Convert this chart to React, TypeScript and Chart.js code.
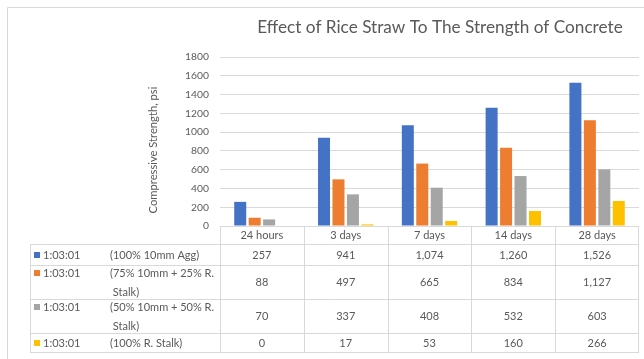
import { useEffect, useRef } from "react";
import { Chart, registerables } from "chart.js";

Chart.register(...registerables);

// Curing ages shown along the horizontal axis and as the table header
const categories = ["24 hours", "3 days", "7 days", "14 days", "28 days"];

// Mix identifiers and descriptions (description split into its wrapped lines)
const seriesCodes = ["1:03:01", "1:03:01", "1:03:01", "1:03:01"];
const seriesNames = [
  ["(100% 10mm Agg)"],
  ["(75% 10mm + 25% R.", " Stalk)"],
  ["(50% 10mm + 50% R.", " Stalk)"],
  ["(100% R. Stalk)"],
];

// Compressive strength, psi
const agg100 = [257, 941, 1074, 1260, 1526];
const mix75 = [88, 497, 665, 834, 1127];
const mix50 = [70, 337, 408, 532, 603];
const stalk100 = [0, 17, 53, 160, 266];

const yMin = 0;
const yMax = 1800;
const yStep = 200;

const seriesColors = ["#4472C4", "#ED7D31", "#A5A5A5", "#FFC000"];

const chartTitle = "Effect of Rice Straw To The Strength of Concrete";
const yAxisTitle = "Compressive Strength, psi";

const TEXT = "#595959";
const LINE = "#D9D9D9";
const FONT = "Lato, 'Noto Sans', sans-serif";

const W = 644;
const H = 359;

// Table geometry below the plot
const TABLE_LEFT = 30;
const ROW_HEIGHTS = [18, 21, 34, 34, 19];

const seriesValues = [agg100, mix75, mix50, stalk100];

const decorPlugin = {
  id: "decorAndTable",
  afterDraw(chart: any) {
    const ctx: CanvasRenderingContext2D = chart.ctx;
    const xs = chart.scales.x;
    const area = chart.chartArea;
    ctx.save();

    // outer frame
    ctx.strokeStyle = LINE;
    ctx.lineWidth = 1;
    ctx.beginPath();
    ctx.moveTo(7.5, H);
    ctx.lineTo(7.5, 7.5);
    ctx.lineTo(W, 7.5);
    ctx.stroke();

    // title
    ctx.fillStyle = TEXT;
    ctx.font = `17.2px ${FONT}`;
    ctx.textAlign = "center";
    ctx.textBaseline = "middle";
    ctx.fillText(chartTitle, 440, 27);

    // vertical axis title
    ctx.save();
    ctx.translate(153, 150);
    ctx.rotate(-Math.PI / 2);
    ctx.font = `11.2px ${FONT}`;
    ctx.fillText(yAxisTitle, 0, 0);
    ctx.restore();

    // data table
    const n = categories.length;
    const colW = (area.right - area.left) / n;
    const top = area.bottom;
    const rowTops: number[] = [top];
    ROW_HEIGHTS.forEach((h, i) => rowTops.push(rowTops[i] + h));
    const bottom = rowTops[rowTops.length - 1];

    ctx.strokeStyle = LINE;
    ctx.beginPath();
    // header top
    ctx.moveTo(area.left, Math.round(top) + 0.5);
    ctx.lineTo(area.right, Math.round(top) + 0.5);
    // remaining horizontal rules
    for (let r = 1; r < rowTops.length; r++) {
      const y = Math.round(rowTops[r]) + 0.5;
      ctx.moveTo(TABLE_LEFT, y);
      ctx.lineTo(area.right, y);
    }
    // category column rules
    for (let i = 0; i <= n; i++) {
      const x =
        i === n
          ? Math.round(area.right) - 0.5
          : Math.round(xs.getPixelForValue(i) - colW / 2) + 0.5;
      ctx.moveTo(x, top);
      ctx.lineTo(x, bottom);
    }
    // legend column left edge
    ctx.moveTo(TABLE_LEFT + 0.5, rowTops[1]);
    ctx.lineTo(TABLE_LEFT + 0.5, bottom);
    ctx.stroke();

    ctx.fillStyle = TEXT;
    ctx.font = `11px ${FONT}`;
    ctx.textAlign = "center";
    ctx.textBaseline = "middle";
    categories.forEach((c, i) => {
      ctx.fillText(c, xs.getPixelForValue(i), (rowTops[0] + rowTops[1]) / 2 + 0.5);
    });

    seriesValues.forEach((vals, s) => {
      const rTop = rowTops[s + 1];
      const rBot = rowTops[s + 2];
      const mid = (rTop + rBot) / 2;
      const lines = seriesNames[s];
      const lh = 19;
      const firstY = mid - ((lines.length - 1) * lh) / 2;

      // legend key
      ctx.fillStyle = seriesColors[s];
      ctx.fillRect(34, Math.round(firstY) - 3, 6, 6);
      ctx.fillStyle = TEXT;
      ctx.textAlign = "left";
      ctx.fillText(seriesCodes[s], 43, firstY + 0.5);
      lines.forEach((ln, k) => {
        ctx.fillText(ln, 110, firstY + k * lh + 0.5);
      });

      ctx.textAlign = "center";
      vals.forEach((v, i) => {
        ctx.fillText(v.toLocaleString("en-US"), xs.getPixelForValue(i), mid + 0.5);
      });
    });

    ctx.restore();
  },
};

export default function App() {
  const ref = useRef<HTMLCanvasElement | null>(null);

  useEffect(() => {
    if (!ref.current) return;
    const chart = new Chart(ref.current, {
      type: "bar",
      data: {
        labels: categories,
        datasets: seriesValues.map((vals, s) => ({
          label: `${seriesCodes[s]} ${seriesNames[s].join("").replace(/\s+/g, " ")}`,
          data: vals,
          backgroundColor: seriesColors[s],
          borderWidth: 0,
          barPercentage: 0.83,
          categoryPercentage: 0.69,
        })),
      },
      options: {
        responsive: false,
        animation: false,
        devicePixelRatio: 1,
        layout: { padding: { top: 57, bottom: H - 226, left: 0, right: W - 639 } },
        plugins: {
          legend: { display: false },
          title: { display: false },
          tooltip: { enabled: false },
        },
        scales: {
          x: { display: false },
          y: {
            min: yMin,
            max: yMax,
            border: { display: false },
            grid: { color: LINE, drawTicks: false },
            ticks: {
              stepSize: yStep,
              padding: 11,
              color: TEXT,
              font: { family: FONT, size: 10.3 },
              callback: (v: any) => String(v),
            },
            afterFit: (scale: any) => {
              scale.width = 220;
            },
          },
        },
      },
      plugins: [decorPlugin],
    });
    return () => chart.destroy();
  }, []);

  return (
    <div style={{ position: "fixed", left: 0, top: 0, width: W, height: H, background: "#fff" }}>
      <canvas ref={ref} width={W} height={H} style={{ width: W, height: H, display: "block" }} />
    </div>
  );
}
